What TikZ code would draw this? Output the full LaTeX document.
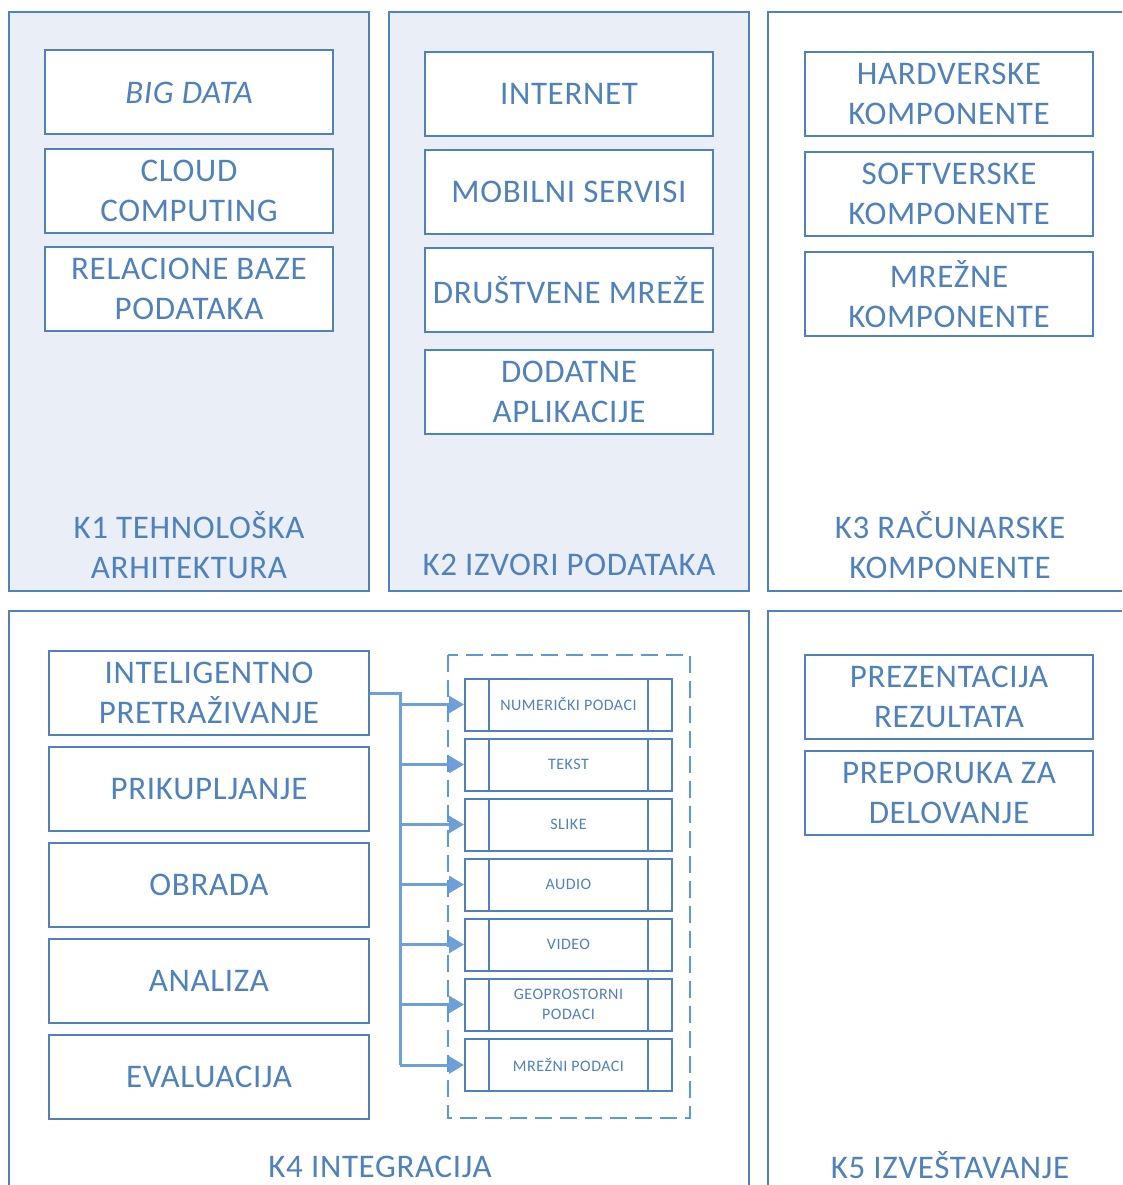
\documentclass[tikz,border=0pt]{standalone}
\usepackage{fontspec}
\setmainfont{Carlito}
\usetikzlibrary{arrows.meta}
\definecolor{ofblue}{HTML}{4F81BD}
\definecolor{panelfill}{HTML}{E9EEF7}
\definecolor{arrowblue}{HTML}{6F9FD8}
\definecolor{dashblue}{HTML}{5B9BD5}
\newcommand\bigtext{\fontsize{33}{40}\selectfont\addfontfeature{LetterSpace=2}}
\newcommand\smalltext{\fontsize{16}{20}\selectfont\addfontfeature{LetterSpace=3}}
\tikzset{
  panel/.style={draw=ofblue, line width=2pt},
  tinted/.style={panel, fill=panelfill},
  plainpanel/.style={panel, fill=white},
  itembox/.style={draw=ofblue, line width=2pt, fill=white, text=ofblue,
    font=\bigtext, align=center, inner sep=0pt,
    minimum width=288pt, minimum height=84pt},
  stagebox/.style={itembox, minimum width=320pt},
  panellabel/.style={text=ofblue, font=\bigtext, align=center, inner sep=0pt},
  databox/.style={draw=ofblue, line width=2pt, fill=white, text=ofblue,
    font=\smalltext, align=center, inner sep=0pt,
    minimum width=207pt, minimum height=52pt,
    path picture={
      \draw[ofblue, line width=2pt]
        ([xshift=24pt]path picture bounding box.north west) --
        ([xshift=24pt]path picture bounding box.south west);
      \draw[ofblue, line width=2pt]
        ([xshift=-24pt]path picture bounding box.north east) --
        ([xshift=-24pt]path picture bounding box.south east);
    }},
  dashbox/.style={draw=dashblue, line width=2pt, dash pattern=on 17pt off 8pt},
  feed/.style={draw=arrowblue, line width=3pt},
  feedarrow/.style={feed, -{Triangle[length=15pt, width=17pt]}}
}
\begin{document}
\begin{tikzpicture}[x=1pt, y=-1pt]
  \useasboundingbox (0,0) rectangle (1122,1185);
  \clip (0,0) rectangle (1122,1185);

  % panels
  \draw[tinted] (9,12) rectangle (369,591);
  \draw[tinted] (389,12) rectangle (749,591);
  \draw[plainpanel] (768,12) rectangle (1135,591);
  \draw[plainpanel] (9,611) rectangle (749,1200);
  \draw[plainpanel] (768,611) rectangle (1135,1200);

  % K1
  \node[itembox] (bigdata) at (189,92.5) {\itshape BIG DATA};
  \node[itembox] (cloud) at (189,191) {CLOUD\\COMPUTING};
  \node[itembox] (rdb) at (189,289) {RELACIONE BAZE\\PODATAKA};
  \node[panellabel] (k1) at (189,545) {K1 TEHNOLOŠKA\\ARHITEKTURA};

  % K2
  \node[itembox] (internet) at (569,94) {INTERNET};
  \node[itembox] (mobile) at (569,192) {MOBILNI SERVISI};
  \node[itembox] (social) at (569,290) {DRUŠTVENE MREŽE};
  \node[itembox] (apps) at (569,392) {DODATNE\\APLIKACIJE};
  \node[panellabel] (k2) at (569,565) {K2 IZVORI PODATAKA};

  % K3
  \node[itembox] (hw) at (949,94) {HARDVERSKE\\KOMPONENTE};
  \node[itembox] (sw) at (949,194) {SOFTVERSKE\\KOMPONENTE};
  \node[itembox] (net) at (949,294) {MREŽNE\\KOMPONENTE};
  \node[panellabel] (k3) at (950,545) {K3 RAČUNARSKE\\KOMPONENTE};

  % K4 stages
  \node[stagebox] (intel) at (209,693) {INTELIGENTNO\\PRETRAŽIVANJE};
  \node[stagebox] (collect) at (209,789) {PRIKUPLJANJE};
  \node[stagebox] (process) at (209,885) {OBRADA};
  \node[stagebox] (analysis) at (209,981) {ANALIZA};
  \node[stagebox] (eval) at (209,1077) {EVALUACIJA};
  \node[panellabel] (k4) at (380,1167) {K4 INTEGRACIJA};

  % K4 data types
  \draw[dashbox] (448,655) rectangle (690,1118);
  \node[databox] (d1) at (568.5,704.5) {NUMERIČKI PODACI};
  \node[databox] (d2) at (568.5,764.5) {TEKST};
  \node[databox] (d3) at (568.5,824.5) {SLIKE};
  \node[databox] (d4) at (568.5,884.5) {AUDIO};
  \node[databox] (d5) at (568.5,944.5) {VIDEO};
  \node[databox] (d6) at (568.5,1004.5) {GEOPROSTORNI\\PODACI};
  \node[databox] (d7) at (568.5,1065) {MREŽNI PODACI};

  % feed bus from the search stage to every data type
  \coordinate (bus) at (400,0);
  \draw[feed] (intel.east) -| (bus |- d7.west);
  \foreach \d in {d1,d2,d3,d4,d5,d6,d7}
    \draw[feedarrow] (bus |- \d.west) -- (\d.west);

  % K5
  \node[itembox] (present) at (949,697) {PREZENTACIJA\\REZULTATA};
  \node[itembox] (advice) at (949,793) {PREPORUKA ZA\\DELOVANJE};
  \node[panellabel] (k5) at (950,1165) {K5 IZVEŠTAVANJE};
\end{tikzpicture}
\end{document}
